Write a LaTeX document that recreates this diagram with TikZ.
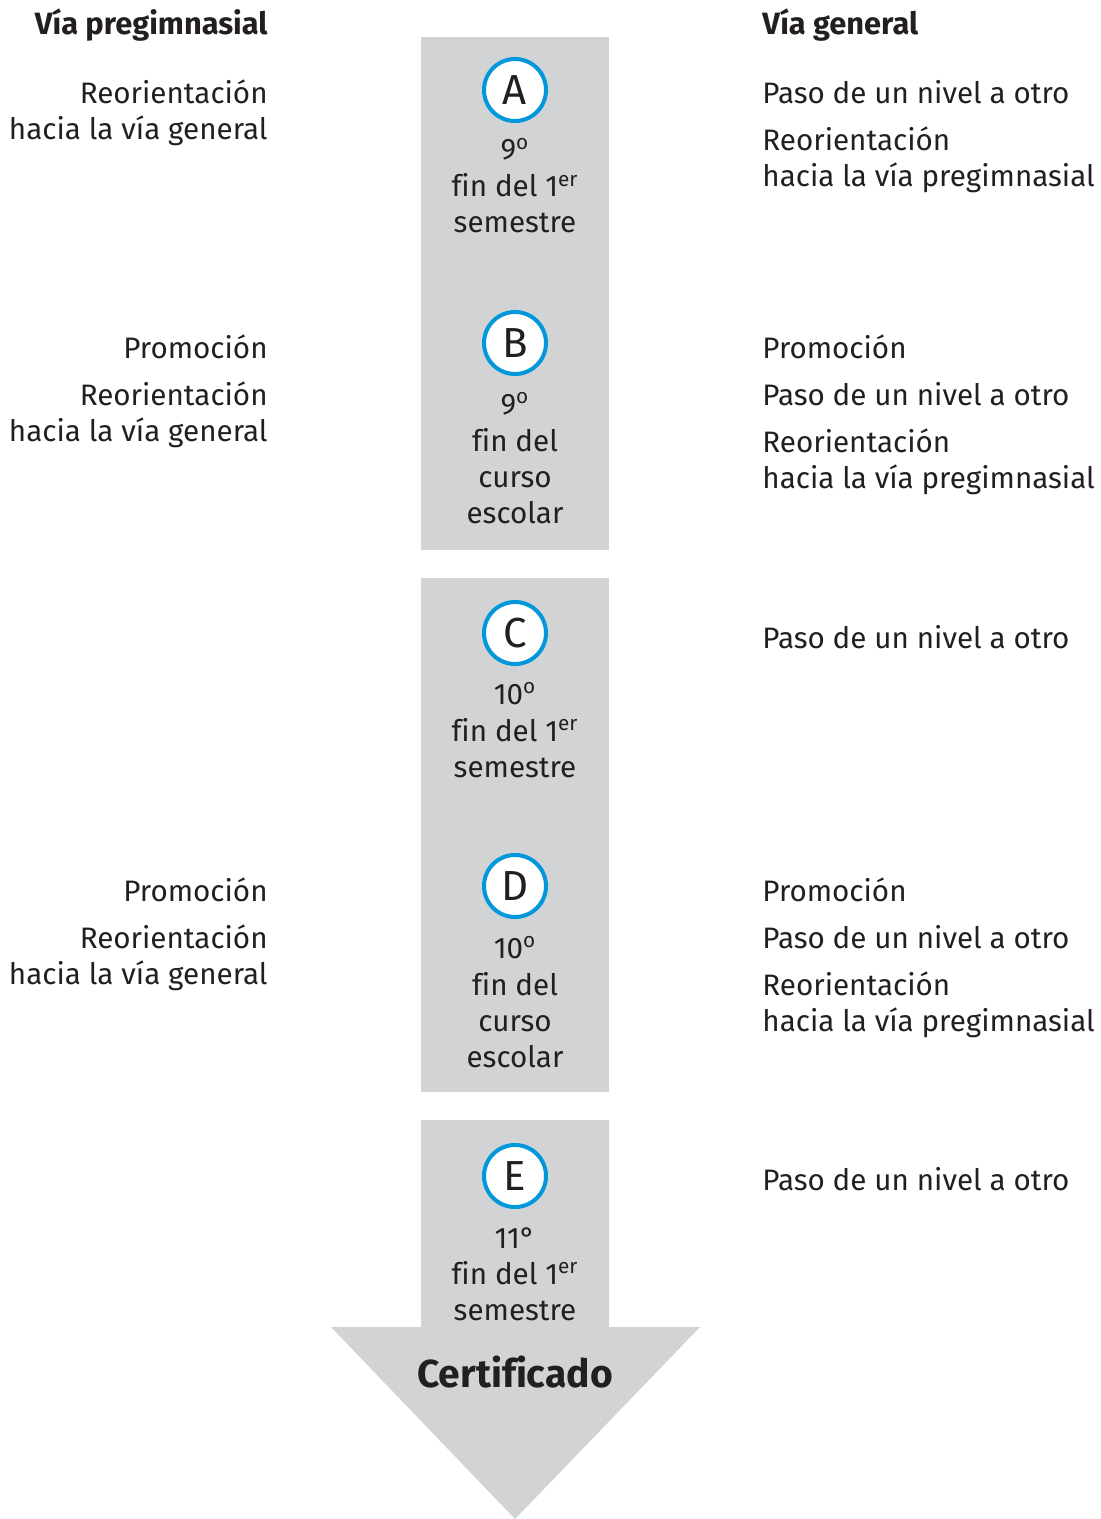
\documentclass[tikz,border=0pt]{standalone}
\usepackage{fontspec}
\setmainfont[Ligatures=CommonOff]{Fira Sans}
\usetikzlibrary{positioning}
\definecolor{stepgray}{HTML}{D1D3D4}
\definecolor{stepblue}{HTML}{0098DA}
\definecolor{inkgray}{HTML}{231F20}
\newcommand{\ord}{\textsuperscript{o}}
\newcommand{\er}{\textsuperscript{er}}

\begin{document}
\begin{tikzpicture}[x=0.5pt, y=-0.5pt,
    lefttext/.style={anchor=base east, inner sep=0pt, text=inkgray, font=\fontsize{14.8}{17}\selectfont},
    righttext/.style={anchor=base west, inner sep=0pt, text=inkgray, font=\fontsize{14.8}{17}\selectfont},
    heading/.style={inner sep=0pt, text=inkgray, font=\fontsize{15.4}{17}\selectfont\bfseries},
    stage/.style={circle, draw=stepblue, line width=2pt, fill=white, minimum size=31pt, inner sep=0pt, text=inkgray, font=\fontsize{21}{21}\selectfont},
    stagetext/.style={anchor=base, inner sep=0pt, text=inkgray, font=\fontsize{14.8}{17}\selectfont}]
    \useasboundingbox (0, 0) rectangle (1101, 1519);

    % Grey column
    \fill[stepgray] (421, 37) rectangle (609, 550);
    \fill[stepgray] (421, 578) rectangle (609, 1092);
    \fill[stepgray] (421, 1120) -- (609, 1120) -- (609, 1327) -- (700, 1327)
        -- (515, 1519) -- (331, 1327) -- (421, 1327) -- cycle;

    % Headings
    \node[heading, anchor=base east] (hpre) at (268, 35) {Vía pregimnasial};
    \node[heading, anchor=base west] (hgen) at (762, 35) {Vía general};

    % Stage A
    \node[stage] (A) at (515, 90) {A};
    \node[stagetext] (a1) at (515, 160) {9\ord};
    \node[stagetext] (a2) at (515, 197) {fin del 1\er};
    \node[stagetext] (a3) at (515, 233) {semestre};
    \node[lefttext] (la1) at (268, 104) {Reorientación};
    \node[lefttext] (la2) at (268, 140) {hacia la vía general};
    \node[righttext] (ra1) at (762, 104) {Paso de un nivel a otro};
    \node[righttext] (ra2) at (762, 151) {Reorientación};
    \node[righttext] (ra3) at (762, 187) {hacia la vía pregimnasial};

    % Stage B
    \node[stage] (B) at (515, 343) {B};
    \node[stagetext] (b1) at (515, 414) {9\ord};
    \node[stagetext] (b2) at (515, 451) {fin del};
    \node[stagetext] (b3) at (515, 487) {curso};
    \node[stagetext] (b4) at (515, 523) {escolar};
    \node[lefttext] (lb1) at (268, 358) {Promoción};
    \node[lefttext] (lb2) at (268, 405) {Reorientación};
    \node[lefttext] (lb3) at (268, 441) {hacia la vía general};
    \node[righttext] (rb1) at (762, 358) {Promoción};
    \node[righttext] (rb2) at (762, 405) {Paso de un nivel a otro};
    \node[righttext] (rb3) at (762, 452) {Reorientación};
    \node[righttext] (rb4) at (762, 488) {hacia la vía pregimnasial};

    % Stage C
    \node[stage] (C) at (515, 633) {C};
    \node[stagetext] (c1) at (515, 704) {10\ord};
    \node[stagetext] (c2) at (515, 741) {fin del 1\er};
    \node[stagetext] (c3) at (515, 777) {semestre};
    \node[righttext] (rc1) at (762, 648) {Paso de un nivel a otro};

    % Stage D
    \node[stage] (D) at (515, 886) {D};
    \node[stagetext] (d1) at (515, 958) {10\ord};
    \node[stagetext] (d2) at (515, 995) {fin del};
    \node[stagetext] (d3) at (515, 1031) {curso};
    \node[stagetext] (d4) at (515, 1067) {escolar};
    \node[lefttext] (ld1) at (268, 901) {Promoción};
    \node[lefttext] (ld2) at (268, 948) {Reorientación};
    \node[lefttext] (ld3) at (268, 984) {hacia la vía general};
    \node[righttext] (rd1) at (762, 901) {Promoción};
    \node[righttext] (rd2) at (762, 948) {Paso de un nivel a otro};
    \node[righttext] (rd3) at (762, 995) {Reorientación};
    \node[righttext] (rd4) at (762, 1031) {hacia la vía pregimnasial};

    % Stage E
    \node[stage] (E) at (515, 1176) {E};
    \node[stagetext] (e1) at (515, 1248) {11°};
    \node[stagetext] (e2) at (515, 1284) {fin del 1\er};
    \node[stagetext] (e3) at (515, 1320) {semestre};
    \node[righttext] (re1) at (762, 1190) {Paso de un nivel a otro};

    % Arrow label
    \node[heading, anchor=base, font=\fontsize{19.5}{22}\selectfont\bfseries] (cert) at (515, 1387) {Certificado};
\end{tikzpicture}
\end{document}
